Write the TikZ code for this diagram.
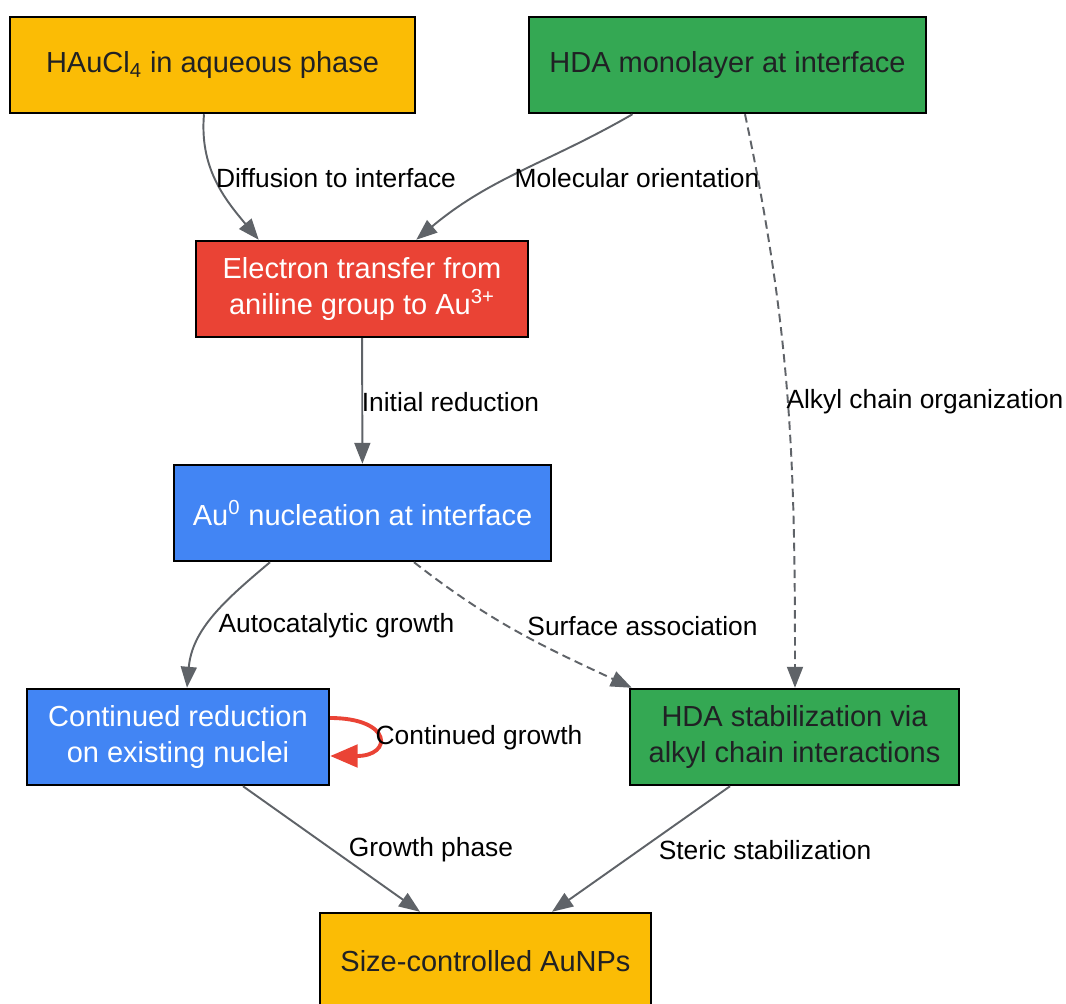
\documentclass[tikz,border=0pt]{standalone}
\usepackage{fontspec}
\setmainfont{Liberation Sans}
\usetikzlibrary{arrows.meta, positioning, calc}
\definecolor{GYellow}{HTML}{FBBC05}
\definecolor{GGreen}{HTML}{34A853}
\definecolor{GRed}{HTML}{EA4335}
\definecolor{GBlue}{HTML}{4285F4}
\definecolor{EdgeGray}{HTML}{5F6368}
\definecolor{DarkText}{HTML}{202124}

\begin{document}
\begin{tikzpicture}[
            proc/.style={draw=black, line width=1.4pt, minimum height=1.92cm, inner sep=0pt, align=center, font=\fontsize{16.5}{20.5}\selectfont},
            yellowbox/.style={proc, fill=GYellow, text=DarkText},
            greenbox/.style={proc, fill=GGreen, text=DarkText},
            redbox/.style={proc, fill=GRed, text=white},
            bluebox/.style={proc, fill=GBlue, text=white},
            flow/.style={draw=EdgeGray, line width=1.1pt, -{Triangle[length=0.42cm, width=0.32cm]}},
            weak/.style={flow, dash pattern=on 0.17cm off 0.1cm},
            loopflow/.style={draw=GRed, line width=2.2pt, -{Triangle[length=0.55cm, width=0.45cm]}},
            lbl/.style={font=\fontsize{15}{18}\selectfont, text=black, inner sep=1pt}
        ]
        \useasboundingbox (0,0) rectangle (21.32,-20.08);

        % The Boxes
        \node[yellowbox, minimum width=8.10cm] (haucl) at (4.25,-1.30) {HAuCl\textsubscript{4} in aqueous phase};
        \node[greenbox, minimum width=7.94cm] (hdamono) at (14.55,-1.30) {HDA monolayer at interface};
        \node[redbox, minimum width=6.64cm] (etrans) at (7.24,-5.78) {Electron transfer from\\aniline group to Au\textsuperscript{3+}};
        \node[bluebox, minimum width=7.54cm] (nucl) at (7.25,-10.26) {Au\textsuperscript{0} nucleation at interface};
        \node[bluebox, minimum width=6.04cm] (contred) at (3.56,-14.74) {Continued reduction\\on existing nuclei};
        \node[greenbox, minimum width=6.58cm] (hdastab) at (15.89,-14.74) {HDA stabilization via\\alkyl chain interactions};
        \node[yellowbox, minimum width=6.62cm] (aunp) at (9.71,-19.22) {Size-controlled AuNPs};

        % Arrows
        \draw[flow] ([xshift=-0.17cm]haucl.south) to[out=-95, in=130] ([xshift=1.28cm]etrans.north west);
        \draw[flow] ([xshift=-1.90cm]hdamono.south) to[out=-150, in=40] ([xshift=-2.26cm]etrans.north east);
        \draw[weak] ([xshift=0.35cm]hdamono.south) to[out=-78, in=90] ([xshift=0.01cm]hdastab.north);
        \draw[flow] (etrans) -- (nucl);
        \draw[flow] ([xshift=-1.85cm]nucl.south) to[out=-140, in=85] ([xshift=0.18cm]contred.north);
        \draw[weak] ([xshift=1.03cm]nucl.south) to[out=-38, in=155] ([xshift=0.06cm]hdastab.north west);
        \draw[loopflow] ([yshift=0.38cm]contred.east) .. controls +(1.25,0) and +(1.25,0) .. ([yshift=-0.38cm]contred.east);
        \draw[flow] ([xshift=1.30cm]contred.south) -- ([xshift=-1.31cm]aunp.north);
        \draw[flow] ([xshift=-1.29cm]hdastab.south) -- ([xshift=1.33cm]aunp.north);

        % Labels
        \node[lbl] (l1) at (6.72,-3.56) {Diffusion to interface};
        \node[lbl] (l2) at (12.74,-3.56) {Molecular orientation};
        \node[lbl] (l3) at (18.50,-8.04) {Alkyl chain organization};
        \node[lbl] (l4) at (9.01,-8.04) {Initial reduction};
        \node[lbl] (l5) at (6.73,-12.52) {Autocatalytic growth};
        \node[lbl] (l6) at (12.85,-12.52) {Surface association};
        \node[lbl] (l7) at (9.58,-14.76) {Continued growth};
        \node[lbl] (l8) at (8.62,-17.00) {Growth phase};
        \node[lbl] (l9) at (15.30,-17.00) {Steric stabilization};

        \end{tikzpicture}
\end{document}
